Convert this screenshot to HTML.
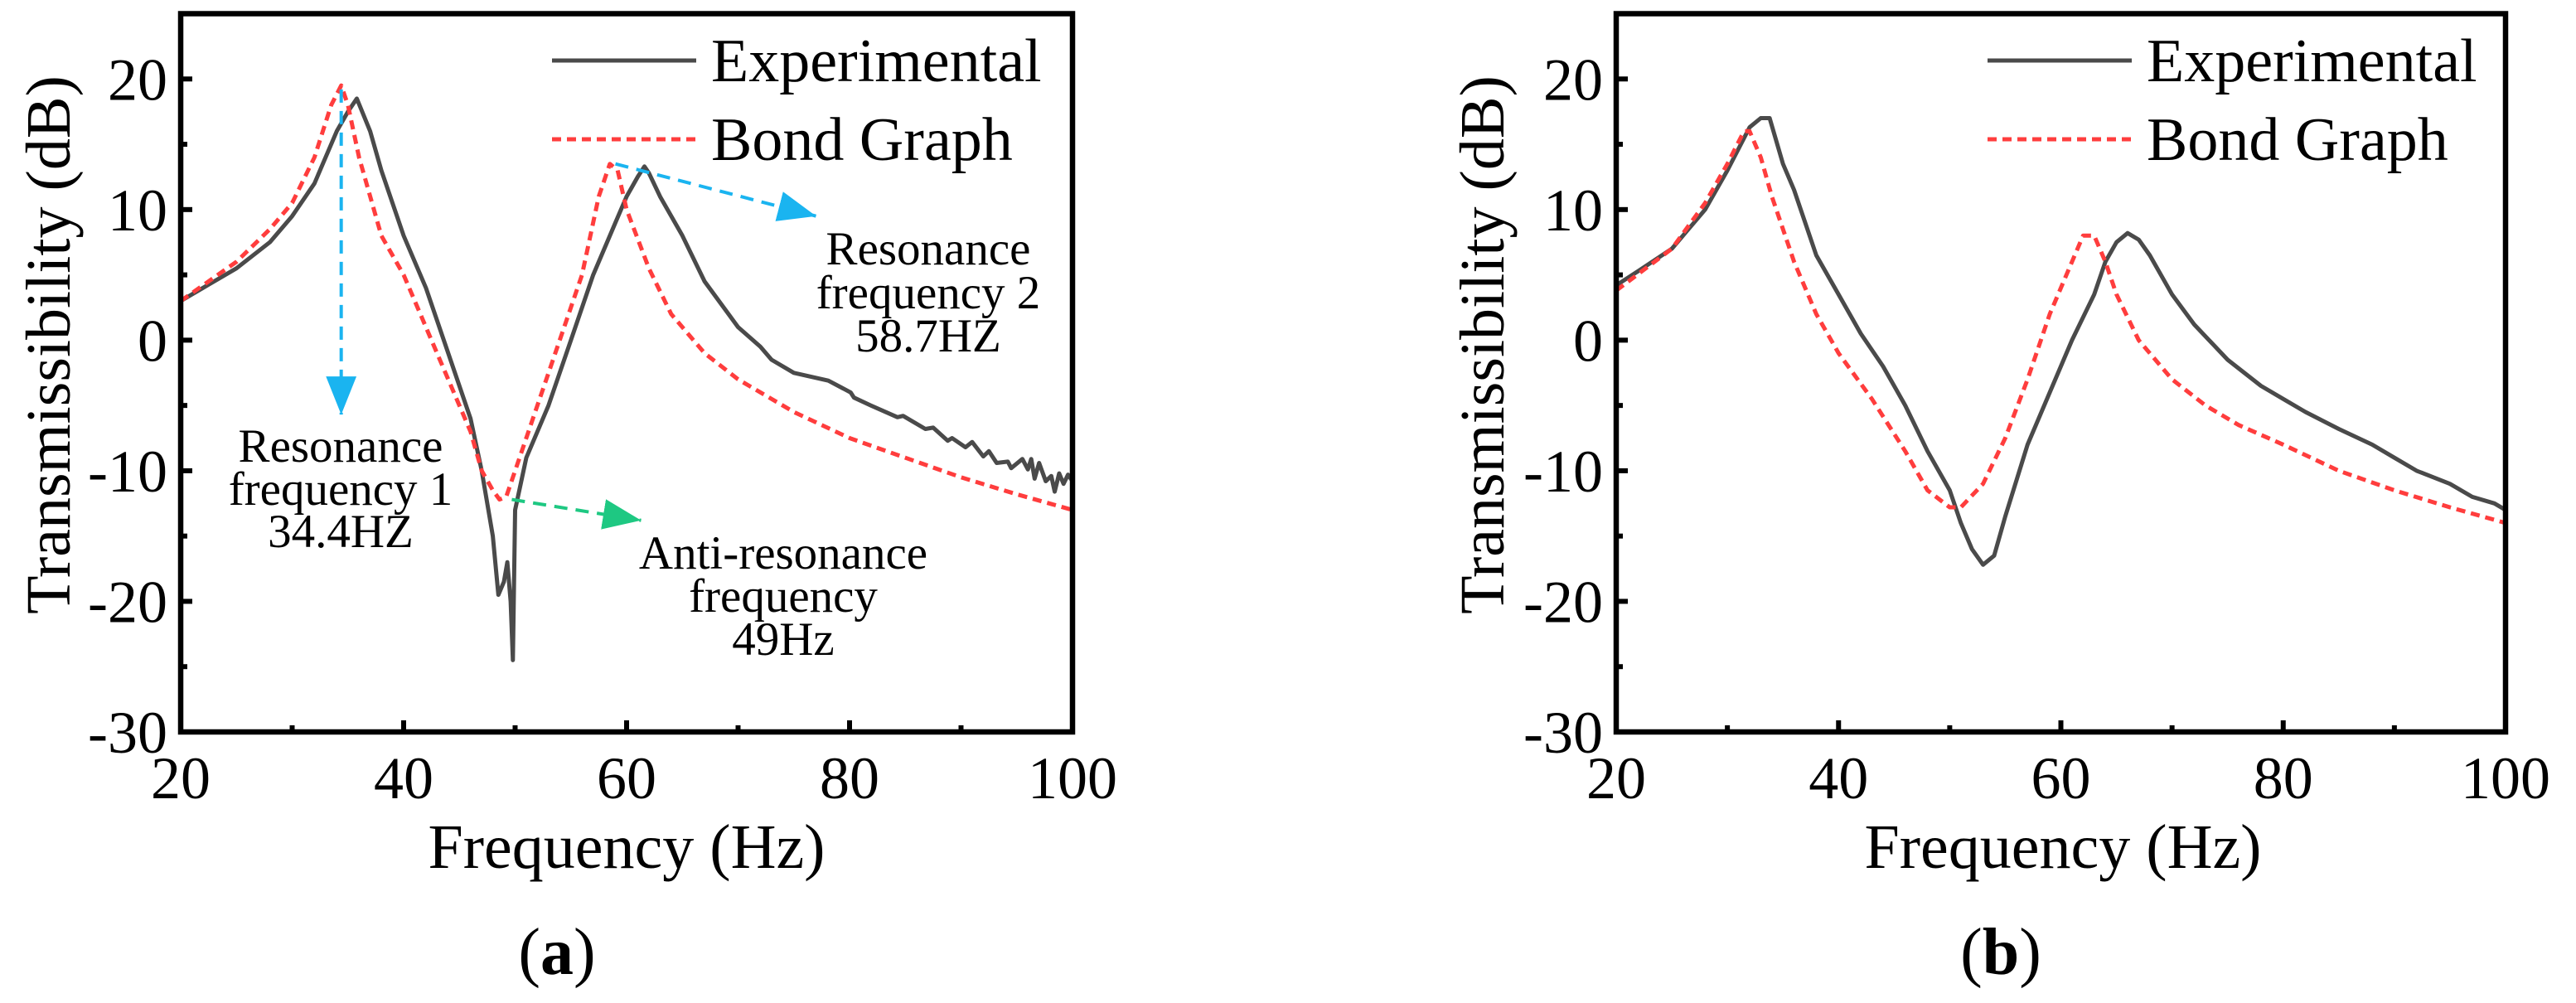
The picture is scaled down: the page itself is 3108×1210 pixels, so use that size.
<!DOCTYPE html>
<html><head><meta charset="utf-8"><style>
html,body{margin:0;padding:0;background:#fff}
svg{display:block}
text{font-family:"Liberation Serif","Times New Roman",serif;fill:#000}
</style></head><body>
<svg id="fig" width="3108" height="1210" viewBox="0 0 3108 1210" font-family="Liberation Serif, Times New Roman, serif"></svg>
<script>
const NS='http://www.w3.org/2000/svg';
const xTicks=[20,40,60,80,100];
const yTicks=[-30,-20,-10,0,10,20];
const xMinor=[30,50,70,90];
const yMinor=[-25,-15,-5,5,15];

// Panel (a)
const aExpX=[20,22,25,28,30,32,34,35,35.8,37,38,40,42,44,46,47,48,48.5,49,49.3,49.6,49.8,50,51,53,55,57,59,60,61,61.6,62,63,65,67,70,72,73,75,78.1,80.1,80.4,81.9,84.3,84.8,86.8,87.5,88.8,89.2,90.4,91,92,92.5,93.2,94.2,94.5,95.5,96,96.3,96.6,97,97.6,98.1,98.4,98.8,99.2,99.6,100];
const aExpY=[3,4,5.5,7.5,9.5,12,16,17.5,18.5,16,13,8,4,-1,-6,-10,-15,-19.5,-18.5,-17,-20,-24.5,-13,-9,-5,0,5,9,11,12.5,13.3,12.8,11,8,4.5,1,-0.5,-1.5,-2.5,-3.1,-4,-4.4,-5,-5.9,-5.8,-6.8,-6.7,-7.7,-7.5,-8.2,-7.8,-8.9,-8.5,-9.4,-9.3,-9.8,-9.1,-9.9,-9.1,-10.6,-9.4,-10.8,-10.4,-11.6,-10.2,-11,-10.3,-10.8];
const aBondX=[20,25,28,30,32,33.5,34.4,35,36,38,40,43,46,47,48,48.6,49.2,50,52,54,56,57.5,58.5,59.2,60,62,64,67,70,75,80,85,90,95,100];
const aBondY=[3,6,8.5,10.5,14,18,19.5,18,14,8,5,-1,-7,-10,-11.5,-12.2,-12,-10,-5,0,5,11,13.5,13,10,5.5,2,-1,-3,-5.5,-7.5,-9,-10.5,-11.8,-13];
// Panel (b)
const bExpX=[20,22,25,28,30,32,33,33.8,35,36,38,40,42,44,46,48,50,51,52,53,54,55,57,59,61,63,64,65,66,67,68,70,72,75,78,80,82,85,88,90,92,95,97,99,100];
const bExpY=[4.2,5.3,7,10,13,16.3,17,17,13.5,11.5,6.5,3.5,0.5,-2,-5,-8.5,-11.5,-14,-16,-17.2,-16.5,-13.5,-8,-4,0,3.5,6,7.5,8.2,7.7,6.5,3.5,1.2,-1.5,-3.5,-4.5,-5.5,-6.8,-8,-9,-10,-11,-12,-12.5,-13];
const bBondX=[20,25,28,30,31.5,32,33,34,36,38,40,43,46,48,50,51,53,55,57,59,61,62,63,64,65,67,70,73,76,80,85,90,95,100];
const bBondY=[3.8,7,10.5,13.5,16,16,14,11,6,2,-1,-4.5,-8.5,-11.5,-12.8,-12.8,-11,-7.5,-3,2,6,8,8,6,3.5,0,-3,-5,-6.5,-8,-10,-11.5,-12.8,-14];

const svg=document.getElementById('fig');
const FF='Liberation Serif, Times New Roman, serif';
function el(tag,attrs,parent,txt){const e=document.createElementNS(NS,tag);for(const k in attrs)e.setAttribute(k,attrs[k]);if(tag==='text')e.setAttribute('font-family',FF);if(txt!==undefined)e.textContent=txt;(parent||svg).appendChild(e);return e;}

const defs=el('defs',{});
[['ab','#1ab4f0'],['ag','#1ec882']].forEach(([id,c])=>{const m=el('marker',{id:id,refX:'10',refY:'4',orient:'auto',markerUnits:'userSpaceOnUse',viewBox:'0 0 10 8'},defs);m.setAttribute('markerWidth','46');m.setAttribute('markerHeight','38');el('path',{d:'M0,0 L10,4 L0,8 z',fill:c},m);});

function panel(P,label){
  const g=el('g',{});
  
  
  const X=v=>P.l+(v-20)/80*(P.r-P.l);
  const Y=v=>P.b-(v+30)/55*(P.b-P.t);
  function line(xs,ys,col,dash,name){
    let d='';xs.forEach((x,i)=>{d+=(i?'L':'M')+X(x).toFixed(1)+','+Y(ys[i]).toFixed(1);});
    const p=el('path',{d:d,fill:'none',stroke:col,'stroke-width':'5','stroke-linejoin':'round'},g);
    if(dash)p.setAttribute('stroke-dasharray',dash);
    
    
  }
  line(P.ex,P.ey,'#4a4a4a',null,'experimental-line');
  line(P.bx,P.by,'#ff3d3d','11,7','bond-graph-line');
  const f=el('rect',{x:P.l,y:P.t,width:P.r-P.l,height:P.b-P.t,fill:'none',stroke:'#000','stroke-width':'6.5'},g);
  
  
  xTicks.forEach(v=>{el('line',{x1:X(v),x2:X(v),y1:P.b,y2:P.b-14,stroke:'#000','stroke-width':'6'},g);
    const t=el('text',{x:X(v),y:P.b+80,'font-size':'72','text-anchor':'middle'},g,String(v));
    });
  xMinor.forEach(v=>el('line',{x1:X(v),x2:X(v),y1:P.b,y2:P.b-8,stroke:'#000','stroke-width':'6'},g));
  yTicks.forEach(v=>{el('line',{x1:P.l,x2:P.l+14,y1:Y(v),y2:Y(v),stroke:'#000','stroke-width':'6'},g);
    const t=el('text',{x:P.l-16,y:Y(v)+25,'font-size':'72','text-anchor':'end'},g,String(v));
    });
  yMinor.forEach(v=>el('line',{x1:P.l,x2:P.l+8,y1:Y(v),y2:Y(v),stroke:'#000','stroke-width':'6'},g));
  const xt=el('text',{x:P.xtx,y:1047,'font-size':'76','text-anchor':'middle'},g,'Frequency (Hz)');
  
  const yt=el('text',{x:0,y:0,'font-size':'76','text-anchor':'middle',transform:'translate('+(P.ytx+26)+',416) rotate(-90)'},g,'Transmissibility (dB)');
  
  const lg=el('g',{},g);
  el('line',{x1:P.lg,x2:P.lg+174,y1:73,y2:73,stroke:'#4a4a4a','stroke-width':'5'},lg);
  el('line',{x1:P.lg,x2:P.lg+174,y1:168,y2:168,stroke:'#ff3d3d','stroke-width':'5','stroke-dasharray':'11,7'},lg);
  const l1=el('text',{x:P.lg+192,y:98,'font-size':'74'},lg,'Experimental');
  
  const l2=el('text',{x:P.lg+192,y:193,'font-size':'74'},lg,'Bond Graph');
  
  const cap=el('text',{x:P.cap,y:1175,'font-size':'80','text-anchor':'middle'},g);
  
  el('tspan',{},cap,'(');el('tspan',{'font-weight':'bold'},cap,label);el('tspan',{},cap,')');
  return {g,X,Y};
}

const A=panel({l:218,r:1294,t:16.5,b:883,ex:aExpX,ey:aExpY,bx:aBondX,by:aBondY,xtx:756,ytx:58,lg:666,cap:672},'a');
panel({l:1950,r:3023,t:16.5,b:883,ex:bExpX,ey:bExpY,bx:bBondX,by:bBondY,xtx:2489,ytx:1788,lg:2398,cap:2414},'b');

const arrows=[[34.4,19.2,34.4,-5.7,'#1ab4f0','ab','arrow-resonance-1'],[59,13.5,77,9.5,'#1ab4f0','ab','arrow-resonance-2'],[49.7,-12.2,61.3,-13.8,'#1ec882','ag','arrow-anti-resonance']];
arrows.forEach(a=>{const l=el('line',{x1:A.X(a[0]),y1:A.Y(a[1]),x2:A.X(a[2]),y2:A.Y(a[3]),stroke:a[4],'stroke-width':'4','stroke-dasharray':'16,10','marker-end':'url(#'+a[5]+')'},A.g);
  });
function note(x,ys,lines,name){const g=el('g',{},A.g);
  lines.forEach((s,i)=>el('text',{x:x,y:ys[i]+20,'font-size':'57','text-anchor':'middle'},g,s));}
note(411,[537,589,640],['Resonance','frequency 1','34.4HZ'],'annotation-resonance-1');
note(1120,[299,352,404],['Resonance','frequency 2','58.7HZ'],'annotation-resonance-2');
note(945,[666,718,770],['Anti-resonance','frequency','49Hz'],'annotation-anti-resonance');
</script>
</body></html>
